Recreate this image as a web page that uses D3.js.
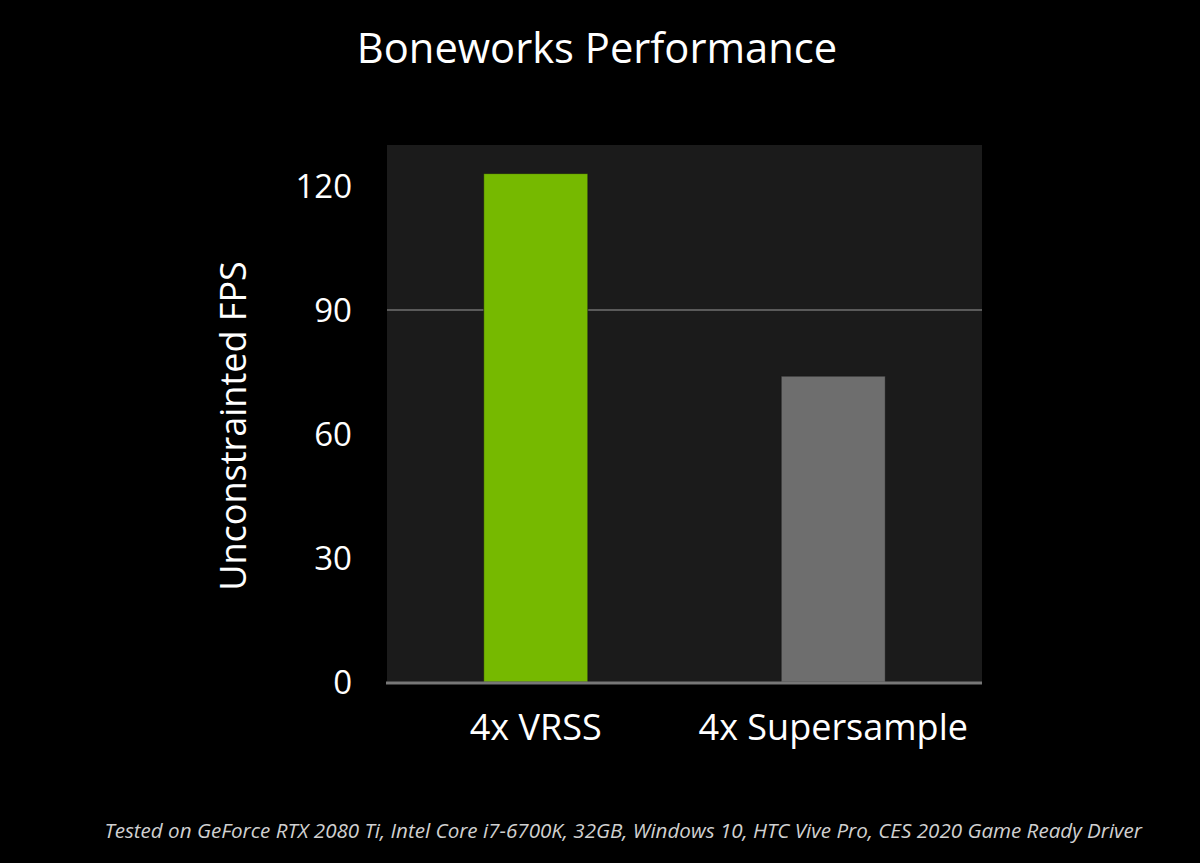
<!DOCTYPE html>
<html>
<head>
<meta charset="utf-8">
<script src="https://cdn.jsdelivr.net/npm/d3@7"></script>
<style>
  html, body { margin: 0; padding: 0; background: #000; }
  svg { display: block; }
</style>
</head>
<body>
<svg id="chart" width="1200" height="863"></svg>
<script>
// Boneworks performance: unconstrained FPS per rendering mode
const categories = ["4x VRSS", "4x Supersample"];
const fpsValues = [123, 74];
const barColors = ["#76b900", "#6e6e6e"];
const yTicks = [0, 30, 60, 90, 120];
const gridTicks = [90];
const titleText = "Boneworks Performance";
const yAxisTitle = "Unconstrainted FPS";
const footnote = "Tested on GeForce RTX 2080 Ti, Intel Core i7-6700K, 32GB, Windows 10, HTC Vive Pro, CES 2020 Game Ready Driver";

const W = 1200, H = 863;
const plot = { left: 387, right: 982, top: 145, bottom: 682 };
const font = "'Open Sans', 'DejaVu Sans', sans-serif";

const svg = d3.select("#chart");
svg.append("rect").attr("width", W).attr("height", H).attr("fill", "#000");

const x = d3.scaleBand()
  .domain(categories)
  .range([plot.left, plot.right])
  .paddingInner(0.65)
  .paddingOuter(0.325);

const y = d3.scaleLinear()
  .domain([0, 30])
  .range([plot.bottom, plot.bottom - 124]);

// plot background
svg.append("rect")
  .attr("x", plot.left).attr("y", plot.top)
  .attr("width", plot.right - plot.left)
  .attr("height", plot.bottom - plot.top)
  .attr("fill", "#1b1b1b");

// 90 FPS reference line
svg.append("g").selectAll("line")
  .data(gridTicks).join("line")
  .attr("x1", plot.left).attr("x2", plot.right)
  .attr("y1", d => y(d)).attr("y2", d => y(d))
  .attr("stroke", "#5a5a5a").attr("stroke-width", 2);

// bars
svg.append("g").selectAll("rect")
  .data(categories).join("rect")
  .attr("x", d => x(d))
  .attr("width", x.bandwidth())
  .attr("y", (d, i) => y(fpsValues[i]))
  .attr("height", (d, i) => y(0) - y(fpsValues[i]))
  .attr("fill", (d, i) => barColors[i])
  .attr("stroke", "#141414")
  .attr("stroke-opacity", 0.6)
  .attr("stroke-width", 1);

// baseline
svg.append("line")
  .attr("x1", plot.left - 1).attr("x2", plot.right)
  .attr("y1", y(0) + 1).attr("y2", y(0) + 1)
  .attr("stroke", "#777").attr("stroke-width", 3);

// y axis
const yAxis = svg.append("g")
  .attr("transform", `translate(${plot.left - 35},0)`)
  .call(d3.axisLeft(y).tickValues(yTicks).tickSize(0).tickPadding(0));
yAxis.select(".domain").remove();
yAxis.selectAll("text")
  .attr("fill", "#fff")
  .attr("font-family", font)
  .attr("font-size", 33)
  .attr("dy", "0.34em");

// x axis
const xAxis = svg.append("g")
  .attr("transform", `translate(0,${plot.bottom})`)
  .call(d3.axisBottom(x).tickSize(0).tickPadding(0));
xAxis.select(".domain").remove();
xAxis.selectAll("text")
  .attr("fill", "#fff")
  .attr("font-family", font)
  .attr("font-size", 36)
  .attr("dy", 0)
  .attr("y", 58);

// title
svg.append("text")
  .attr("x", 597).attr("y", 63)
  .attr("text-anchor", "middle")
  .attr("fill", "#fff")
  .attr("font-family", font)
  .attr("font-size", 41.7)
  .text(titleText);

// y axis title
svg.append("text")
  .attr("transform", `translate(246,${(262 + 590) / 2}) rotate(-90)`)
  .attr("text-anchor", "middle")
  .attr("fill", "#fff")
  .attr("font-family", font)
  .attr("font-size", 36)
  .text(yAxisTitle);

// footnote
svg.append("text")
  .attr("x", 1142).attr("y", 838)
  .attr("text-anchor", "end")
  .attr("fill", "#d0d0d0")
  .attr("font-family", font)
  .attr("font-style", "italic")
  .attr("font-size", 20.6)
  .text(footnote);
</script>
</body>
</html>
